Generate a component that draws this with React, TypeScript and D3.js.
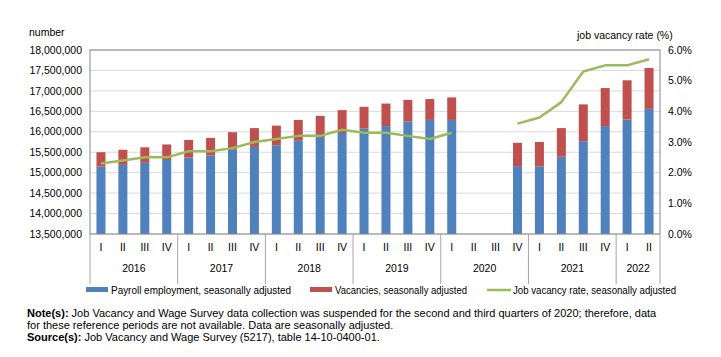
import React from "react";
import * as d3 from "d3";

const quarterLabels = ["I","II","III","IV","I","II","III","IV","I","II","III","IV","I","II","III","IV","I","II","III","IV","I","II","III","IV","I","II"];
const years = ["2016","2017","2018","2019","2020","2021","2022"];
const yearCounts = [4,4,4,4,4,4,2];
const payroll: (number|null)[] = [
  15150000,15190000,15240000,15310000,
  15370000,15420000,15560000,15630000,
  15670000,15780000,15870000,15970000,
  16080000,16140000,16250000,16290000,
  16290000,null,null,15160000,
  15150000,15390000,15770000,16140000,
  16300000,16560000];
const vacancies: (number|null)[] = [
  350000,370000,380000,380000,
  430000,430000,430000,460000,
  480000,510000,520000,560000,
  530000,550000,530000,510000,
  550000,null,null,570000,
  600000,700000,900000,930000,
  960000,1000000];
const vacancyRate: (number|null)[] = [
  2.3,2.4,2.5,2.5,
  2.7,2.7,2.8,3.0,
  3.1,3.2,3.2,3.4,
  3.3,3.3,3.2,3.1,
  3.3,null,null,3.6,
  3.8,4.3,5.3,5.5,
  5.5,5.7];
const leftTicks = [13500000,14000000,14500000,15000000,15500000,16000000,16500000,17000000,17500000,18000000];
const rightTicks = [0,1,2,3,4,5,6];

const W = 721, H = 357;
const L = 90, R = 660, T = 50, B = 234;
const BLUE = "#4F81BD", RED = "#C0504D", GREEN = "#9BBB59";
const FONT = "'Liberation Sans', Arial, sans-serif";

export default function App() {
  const idx = d3.range(quarterLabels.length);
  const band = d3.scaleBand<number>().domain(idx).range([L, R]).padding(0);
  const yL = d3.scaleLinear().domain([13500000, 18000000]).range([B, T]);
  const yR = d3.scaleLinear().domain([0, 6]).range([B, T]);
  const fmt = d3.format(",");
  const line = d3.line<number|null>()
    .defined(d => d != null)
    .x((_, i) => band(i)! + band.bandwidth() / 2)
    .y(d => yR(d as number));

  let acc = 0;
  const yearBounds = yearCounts.map(c => { const s = acc; acc += c; return [s, acc]; });
  const bw = 9;

  return (
    <svg width={W} height={H} style={{ position: "absolute", left: 0, top: 0, background: "#fff" }}>
      {leftTicks.map(t => (
        <line key={t} x1={L} x2={R} y1={yL(t)} y2={yL(t)} stroke="#d9d9d9" strokeWidth={1} />
      ))}
      {idx.map(i => {
        const p = payroll[i], v = vacancies[i];
        if (p == null || v == null) return null;
        const cx = band(i)! + band.bandwidth() / 2;
        return (
          <g key={i}>
            <rect x={cx - bw / 2} y={yL(p)} width={bw} height={B - yL(p)} fill={BLUE} />
            <rect x={cx - bw / 2} y={yL(p + v)} width={bw} height={yL(p) - yL(p + v)} fill={RED} />
          </g>
        );
      })}
      <path d={line(vacancyRate) || ""} fill="none" stroke={GREEN} strokeWidth={2.5} strokeLinejoin="round" />
      <rect x={L} y={T} width={R - L} height={B - T} fill="none" stroke="#868686" strokeWidth={1} />
      {leftTicks.map(t => (
        <text key={t} x={82} y={yL(t)} dy="0.35em" textAnchor="end" fontFamily={FONT} fontSize={10.5} fill="#000">{fmt(t)}</text>
      ))}
      {rightTicks.map(t => (
        <text key={t} x={668} y={yR(t)} dy="0.35em" textAnchor="start" fontFamily={FONT} fontSize={10.5} fill="#000">{t.toFixed(1) + "%"}</text>
      ))}
      <text x={29} y={36} fontFamily={FONT} fontSize={10.5}>number</text>
      <text x={577} y={39} fontFamily={FONT} fontSize={10.5}>job vacancy rate (%)</text>
      {idx.map(i => (
        <text key={i} x={band(i)! + band.bandwidth() / 2} y={247} dy="0.35em" textAnchor="middle" fontFamily={FONT} fontSize={10.5}>{quarterLabels[i]}</text>
      ))}
      {yearBounds.map(([s, e], k) => {
        const x0 = band(s)!;
        const x1 = e >= idx.length ? R : band(e)!;
        return (
          <g key={k}>
            <text x={(x0 + x1) / 2} y={268} dy="0.35em" textAnchor="middle" fontFamily={FONT} fontSize={10.5}>{years[k]}</text>
            <line x1={x0} x2={x0} y1={B} y2={284} stroke="#a6a6a6" />
            {e >= idx.length && <line x1={R} x2={R} y1={B} y2={284} stroke="#a6a6a6" />}
          </g>
        );
      })}
      <rect x={86} y={287} width={22} height={5} fill={BLUE} />
      <text x={111} y={290} dy="0.35em" fontFamily={FONT} fontSize={10} textLength={180} lengthAdjust="spacingAndGlyphs">Payroll employment, seasonally adjusted</text>
      <rect x={310} y={287} width={22} height={5} fill={RED} />
      <text x={335} y={290} dy="0.35em" fontFamily={FONT} fontSize={10} textLength={132} lengthAdjust="spacingAndGlyphs">Vacancies, seasonally adjusted</text>
      <line x1={487} x2={511} y1={290} y2={290} stroke={GREEN} strokeWidth={2.5} />
      <text x={513} y={290} dy="0.35em" fontFamily={FONT} fontSize={10} textLength={163} lengthAdjust="spacingAndGlyphs">Job vacancy rate, seasonally adjusted</text>
      <text x={27} y={313} dy="0.35em" fontFamily={FONT} fontSize={11}>
        <tspan fontWeight="bold">Note(s):</tspan> Job Vacancy and Wage Survey data collection was suspended for the second and third quarters of 2020; therefore, data
      </text>
      <text x={27} y={325} dy="0.35em" fontFamily={FONT} fontSize={11}>for these reference periods are not available. Data are seasonally adjusted.</text>
      <text x={27} y={337} dy="0.35em" fontFamily={FONT} fontSize={11}>
        <tspan fontWeight="bold">Source(s):</tspan> Job Vacancy and Wage Survey (5217), table 14-10-0400-01.
      </text>
    </svg>
  );
}
